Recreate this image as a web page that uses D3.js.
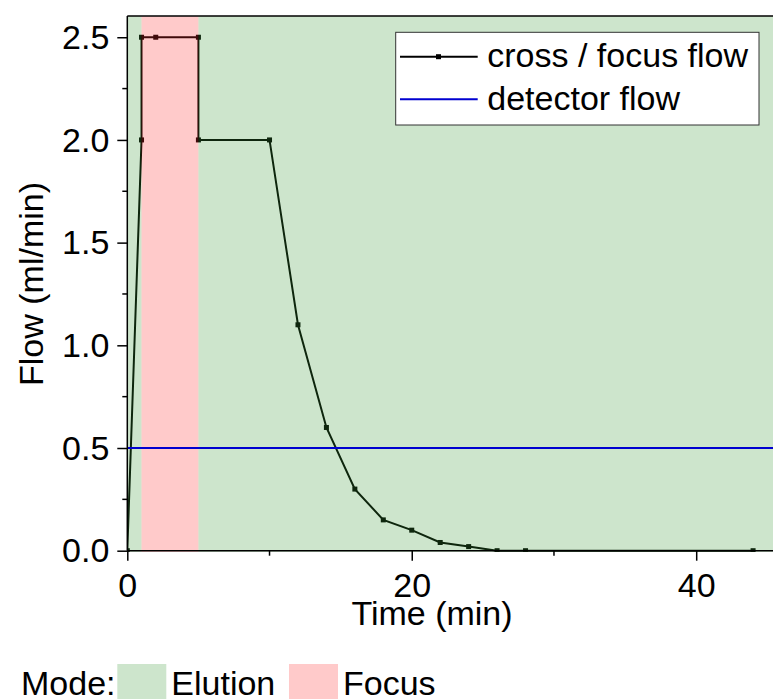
<!DOCTYPE html>
<html>
<head>
<meta charset="utf-8">
<script src="https://cdn.jsdelivr.net/npm/d3@7"></script>
<style>
	body { margin: 0; background: #fff; }
	svg { display: block; font-family: "Liberation Sans", Arial, sans-serif; }
	.axis path, .axis line { stroke: #000; stroke-width: 1.5; }
	.axis text { font-size: 34px; fill: #000; font-family: "Liberation Sans", Arial, sans-serif; }
</style>
</head>
<body>
<script>
// cross / focus flow (ml/min) against time (min)
const time = [0, 1, 1, 2, 5, 5, 10, 12, 14, 16, 18, 20, 22, 24, 26, 28, 44];
const crossFlow = [0, 2, 2.5, 2.5, 2.5, 2, 2, 1.1, 0.6, 0.3, 0.15, 0.1, 0.04, 0.02, 0, 0, 0];

// detector flow is constant
const detectorTime = [0, 50];
const detectorFlow = [0.5, 0.5];

// mode bands
const modeStart = [0, 1, 5];
const modeEnd = [1, 5, 50];
const modeName = ["Elution", "Focus", "Elution"];

const xTicks = [0, 20, 40];
const xMinor = [10, 30];
const yTicks = [0, 0.5, 1, 1.5, 2, 2.5];
const yMinor = [0.25, 0.75, 1.25, 1.75, 2.25];

const width = 773;
const height = 699;

const x = d3.scaleLinear()
	.domain([0, 45.4])
	.range([127.3, 773]);

const y = d3.scaleLinear()
	.domain([0, 2.6])
	.range([550.7, 16.7]);

// overlay colours (translucent, like the original)
const modeColor = {
	"Elution": "rgba(55,151,51,0.25)",
	"Focus": "rgba(255,43,43,0.25)"
};
const swatchColor = { "Elution": "#cde5cc", "Focus": "#ffcaca" };

const svg = d3.select("body")
	.append("svg")
	.attr("width", width)
	.attr("height", height);

svg.append("defs").append("clipPath")
	.attr("id", "plot")
	.append("rect")
	.attr("x", x(0))
	.attr("y", 16)
	.attr("width", x(45.4) - x(0))
	.attr("height", 536);

const plot = svg.append("g").attr("clip-path", "url(#plot)");

const pts = time.map((t, i) => [t, crossFlow[i]]);

const line = d3.line()
	.x((d) => x(d[0]))
	.y((d) => y(d[1]));

plot.append("path")
	.datum(pts)
	.attr("d", line)
	.attr("fill", "none")
	.attr("stroke", "#000")
	.attr("stroke-width", 2);

plot.selectAll("rect.marker")
	.data(pts)
	.enter()
	.append("rect")
	.attr("class", "marker")
	.attr("x", (d) => x(d[0]) - 2.5)
	.attr("y", (d) => y(d[1]) - 2.5)
	.attr("width", 5)
	.attr("height", 5)
	.attr("fill", "#000");

// mode bands over the curve
plot.selectAll("rect.mode")
	.data(modeName)
	.enter()
	.append("rect")
	.attr("class", "mode")
	.attr("x", (d, i) => x(modeStart[i]))
	.attr("width", (d, i) => x(modeEnd[i]) - x(modeStart[i]))
	.attr("y", 16)
	.attr("height", 536)
	.attr("fill", (d) => modeColor[d]);

// detector flow on top
plot.append("path")
	.datum(detectorTime.map((t, i) => [t, detectorFlow[i]]))
	.attr("d", line)
	.attr("fill", "none")
	.attr("stroke", "#0000d0")
	.attr("stroke-width", 2);

// frame top
svg.append("line")
	.attr("x1", x(0)).attr("x2", width)
	.attr("y1", 16).attr("y2", 16)
	.attr("stroke", "#000")
	.attr("stroke-width", 1.5);

// axes
const yAxis = svg.append("g")
	.attr("class", "axis")
	.attr("transform", "translate(" + x(0) + ",0)")
	.call(d3.axisLeft(y).tickValues(yTicks).tickSize(10).tickPadding(8).tickFormat(d3.format(".1f")).tickSizeOuter(0));
yAxis.select(".domain").attr("d", "M0,16V" + y(0));
yAxis.selectAll("text").attr("dy", "0.33em");
yAxis.selectAll(".minor")
	.data(yMinor)
	.enter()
	.append("line")
	.attr("class", "minor")
	.attr("x1", -5).attr("x2", 0)
	.attr("y1", (d) => y(d)).attr("y2", (d) => y(d));

const xAxis = svg.append("g")
	.attr("class", "axis")
	.attr("transform", "translate(0," + y(0) + ")")
	.call(d3.axisBottom(x).tickValues(xTicks).tickSize(10).tickPadding(12).tickSizeOuter(0));
xAxis.select(".domain").attr("d", "M" + x(0) + ",0H" + width);
xAxis.selectAll("text").attr("dy", "0.71em");
xAxis.selectAll(".minor")
	.data(xMinor)
	.enter()
	.append("line")
	.attr("class", "minor")
	.attr("x1", (d) => x(d)).attr("x2", (d) => x(d))
	.attr("y1", 0).attr("y2", 5);

// axis titles
svg.append("text")
	.attr("x", 432)
	.attr("y", 625)
	.attr("text-anchor", "middle")
	.style("font-size", "34px")
	.text("Time (min)");

svg.append("text")
	.attr("transform", "translate(43,284) rotate(-90)")
	.attr("text-anchor", "middle")
	.style("font-size", "34px")
	.text("Flow (ml/min)");

// legend
const legend = svg.append("g");
legend.append("rect")
	.attr("x", 395.7).attr("y", 32.3)
	.attr("width", 363.3).attr("height", 92.7)
	.attr("fill", "#fff")
	.attr("stroke", "#333")
	.attr("stroke-width", 1);

const legendItems = [
	{ name: "cross / focus flow", color: "#000", marker: true },
	{ name: "detector flow", color: "#0000d0", marker: false }
];
const rows = [56.7, 99.3];

legendItems.forEach((d, i) => {
	legend.append("line")
		.attr("x1", 400).attr("x2", 477.7)
		.attr("y1", rows[i]).attr("y2", rows[i])
		.attr("stroke", d.color)
		.attr("stroke-width", 2);
	if (d.marker) {
		legend.append("rect")
			.attr("x", 436).attr("y", rows[i] - 2.5)
			.attr("width", 5).attr("height", 5)
			.attr("fill", d.color);
	}
	legend.append("text")
		.attr("x", 487.3)
		.attr("y", rows[i] + 10.5)
		.style("font-size", "34px")
		.text(d.name);
});

// mode legend at the bottom
const modes = ["Elution", "Focus"];
const modeX = [117.3, 289];
svg.append("text")
	.attr("x", 21)
	.attr("y", 695)
	.style("font-size", "34px")
	.text("Mode:");
modes.forEach((m, i) => {
	svg.append("rect")
		.attr("x", modeX[i]).attr("y", 664)
		.attr("width", 49).attr("height", 36)
		.attr("fill", swatchColor[m]);
	svg.append("text")
		.attr("x", modeX[i] + 54)
		.attr("y", 695)
		.style("font-size", "34px")
		.text(m);
});
</script>
</body>
</html>
